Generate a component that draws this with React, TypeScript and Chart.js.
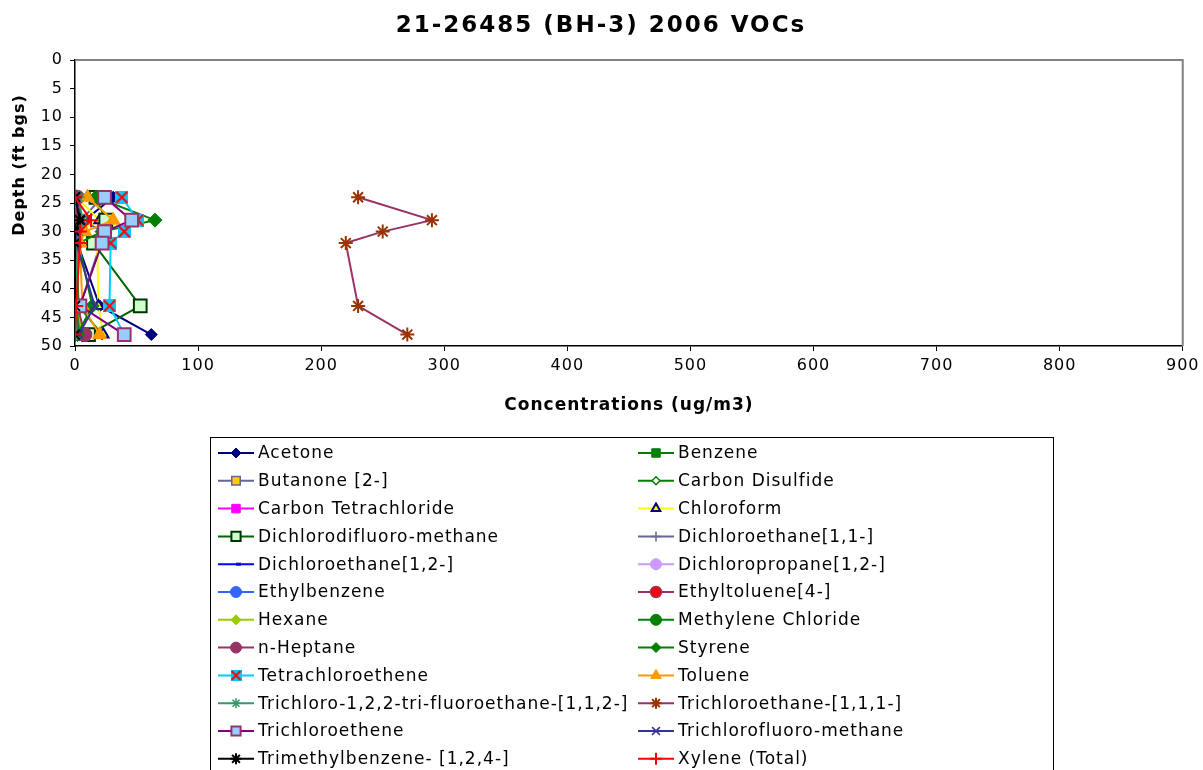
import React, { useEffect, useRef } from "react";
import { Chart, registerables } from "chart.js";
import { drawPoint } from "chart.js/helpers";

Chart.register(...registerables);

const chartTitle = "21-26485 (BH-3) 2006 VOCs";
const xTitle = "Concentrations (ug/m3)";
const yTitle = "Depth (ft bgs)";

const depths = [24, 28, 30, 32, 43, 48];
const xTicks = [0, 100, 200, 300, 400, 500, 600, 700, 800, 900];
const yTicks = [0, 5, 10, 15, 20, 25, 30, 35, 40, 45, 50];

const seriesNames = [
  "Acetone",
  "Benzene",
  "Butanone [2-]",
  "Carbon Disulfide",
  "Carbon Tetrachloride",
  "Chloroform",
  "Dichlorodifluoro-methane",
  "Dichloroethane[1,1-]",
  "Dichloroethane[1,2-]",
  "Dichloropropane[1,2-]",
  "Ethylbenzene",
  "Ethyltoluene[4-]",
  "Hexane",
  "Methylene Chloride",
  "n-Heptane",
  "Styrene",
  "Tetrachloroethene",
  "Toluene",
  "Trichloro-1,2,2-tri-fluoroethane-[1,1,2-]",
  "Trichloroethane-[1,1,1-]",
  "Trichloroethene",
  "Trichlorofluoro-methane",
  "Trimethylbenzene- [1,2,4-]",
  "Xylene (Total)",
];

const acetone = [31, 8, 3, 2, 20, 62];
const benzene = [1, 2, 1, 1, 2, 3];
const butanone = [22, 5, 23, 21, 4, 3];
const carbonDisulfide = [1, 2, 1, 1, 3, 22];
const carbonTetrachloride = [0, 1, 0, 0, 1, 1];
const chloroform = [1, 20, 2, 18, 19, 23];
const dichlorodifluoromethane = [17, 25, 24, 15, 53, 11];
const dichloroethane11 = [0, 0, 0, 0, 0, 0];
const dichloroethane12 = [0, 0, 0, 0, 0, 0];
const dichloropropane12 = [0, 0, 0, 0, 0, 0];
const ethylbenzene = [1, 2, 1, 1, 1, 1];
const ethyltoluene4 = [1, 2, 1, 1, 1, 2];
const hexane = [2, 3, 1, 1, 2, 6];
const methyleneChloride = [1, 3, 1, 1, 2, 2];
const nHeptane = [2, 0, 1, 1, 2, 8];
const styrene = [17, 65, 22, 3, 14, 2];
const tetrachloroethene = [38, 51, 40, 29, 28, 40];
const toluene = [10, 31, 8, 4, 6, 20];
const trichlorotrifluoroethane = [3, 6, 3, 2, 1, 1];
const trichloroethane111 = [230, 290, 250, 220, 230, 270];
const trichloroethene = [24, 46, 24, 22, 4, 40];
const trichlorofluoromethane = [1, 5, 1, 1, 16, 3];
const trimethylbenzene = [0, 4, 0, 0, 0, 0];
const xylene = [0, 13, 4, 4, 1, 0];

const seriesValues = [
  acetone, benzene, butanone, carbonDisulfide, carbonTetrachloride, chloroform,
  dichlorodifluoromethane, dichloroethane11, dichloroethane12, dichloropropane12,
  ethylbenzene, ethyltoluene4, hexane, methyleneChloride, nHeptane, styrene,
  tetrachloroethene, toluene, trichlorotrifluoroethane, trichloroethane111,
  trichloroethene, trichlorofluoromethane, trimethylbenzene, xylene,
];

function makeTetraImage(size: number): HTMLCanvasElement {
  const c = document.createElement("canvas");
  c.width = size;
  c.height = size;
  const g = c.getContext("2d")!;
  g.fillStyle = "#00CCFF";
  g.fillRect(0, 0, size, size);
  g.strokeStyle = "#FF0000";
  g.lineWidth = 2;
  g.beginPath();
  g.moveTo(1, 1);
  g.lineTo(size - 1, size - 1);
  g.moveTo(size - 1, 1);
  g.lineTo(1, size - 1);
  g.stroke();
  return c;
}

// [lineColor, pointStyle, fill, border, radius, borderWidth, legendRadius]
function styles(): any[] {
  const tetra = makeTetraImage(13);
  const tetraL = makeTetraImage(11);
  return [
    ["#000080", "rectRot", "#000080", "#000080", 6, 1, 5],
    ["#008000", "rect", "#008000", "#008000", 7, 1, 6],
    ["#666699", "rect", "#FFCC00", "#666699", 8, 1.5, 6],
    ["#008000", "rectRot", "#FFFFFF", "#008000", 5, 1.5, 4],
    ["#FF00FF", "rect", "#FF00FF", "#FF00FF", 7, 1, 6],
    ["#FFFF00", "triangle", "#FFFF00", "#000080", 6, 2, 5],
    ["#006600", "rect", "#CCFFCC", "#003300", 9, 2, 6.5],
    ["#666699", "cross", "#666699", "#666699", 6, 1.5, 5],
    ["#0000FF", "dash", "#0000FF", "#0000FF", 5, 3, 5],
    ["#CC99FF", "circle", "#CC99FF", "#CC99FF", 6, 1, 5.5],
    ["#3366FF", "circle", "#3366FF", "#3366FF", 6, 1, 5.5],
    ["#993366", "circle", "#FF0000", "#993366", 6, 1.5, 5.5],
    ["#99CC00", "rectRot", "#99CC00", "#99CC00", 6, 1, 5],
    ["#008000", "circle", "#008000", "#008000", 6, 1, 5.5],
    ["#993366", "circle", "#993366", "#993366", 7, 1, 5.5],
    ["#008000", "rectRot", "#008000", "#008000", 7, 1, 5],
    ["#00CCFF", [tetra, tetraL], "#00CCFF", "#FF0000", 7, 2, 5],
    ["#FF9900", "triangle", "#FF9900", "#FF9900", 8, 1, 6],
    ["#339966", "star", "#339966", "#339966", 6, 1.5, 5],
    ["#993366", "star", "#993300", "#993300", 7, 2, 5.5],
    ["#800080", "rect", "#99CCFF", "#993366", 9, 2, 6.5],
    ["#333399", "crossRot", "#333399", "#333399", 6, 1.5, 5.5],
    ["#000000", "star", "#000000", "#000000", 7, 2, 5.5],
    ["#FF0000", "cross", "#FF0000", "#FF0000", 7, 2, 6],
  ];
}

const FONT = '"DejaVu Sans", Verdana, sans-serif';

const overlayPlugin = {
  id: "overlay",
  beforeDraw(chart: any) {
    (chart.ctx as any).letterSpacing = "1px";
  },
  beforeDatasetsDraw(chart: any) {
    const { ctx, chartArea: ca } = chart;
    ctx.save();
    ctx.strokeStyle = "#808080";
    ctx.lineWidth = 2;
    ctx.beginPath();
    ctx.moveTo(ca.left, ca.top);
    ctx.lineTo(ca.right, ca.top);
    ctx.lineTo(ca.right, ca.bottom);
    ctx.stroke();
    ctx.restore();
  },
  afterDraw(chart: any) {
    const { ctx } = chart;
    ctx.save();
    ctx.fillStyle = "#000";
    ctx.textBaseline = "middle";
    ctx.textAlign = "center";
    ctx.letterSpacing = "2px";
    ctx.font = "bold 23px " + FONT;
    ctx.fillText(chartTitle, 601, 26);
    ctx.letterSpacing = "1px";
    ctx.font = "bold 17px " + FONT;
    ctx.fillText(xTitle, 629, 406);
    ctx.save();
    ctx.font = "bold 16px " + FONT;
    ctx.translate(20, 165);
    ctx.rotate(-Math.PI / 2);
    ctx.fillText(yTitle, 0, 0);
    ctx.restore();

    // legend box
    ctx.strokeStyle = "#000";
    ctx.lineWidth = 1;
    ctx.strokeRect(210.5, 437.5, 843, 400);
    ctx.font = "17px " + FONT;
    ctx.textAlign = "left";
    chart.data.datasets.forEach((ds: any, i: number) => {
      const col = i % 2;
      const row = Math.floor(i / 2);
      const y = 453 + row * 27.8;
      const x0 = col === 0 ? 218 : 638;
      const x1 = x0 + 36;
      const xm = (x0 + x1) / 2;
      ctx.strokeStyle = ds.borderColor;
      ctx.lineWidth = 2;
      ctx.beginPath();
      ctx.moveTo(x0, y);
      ctx.lineTo(x1, y);
      ctx.stroke();
      ctx.fillStyle = ds.pointBackgroundColor;
      ctx.strokeStyle = ds.pointBorderColor;
      ctx.lineWidth = ds.pointBorderWidth;
      drawPoint(ctx, {
        pointStyle: ds.legendStyle,
        radius: ds.legendRadius,
        borderWidth: ds.pointBorderWidth,
        rotation: 0,
      } as any, xm, y);
      ctx.fillStyle = "#000";
      ctx.fillText(ds.label, x1 + 4, y + 1);
    });
    ctx.restore();
  },
};

export default function App() {
  const ref = useRef<HTMLCanvasElement>(null);
  useEffect(() => {
    if (!ref.current) return;
    const st = styles();
    const n = seriesNames.length;
    const datasets = seriesNames.map((name, i) => {
      const s = st[i];
      const ps = Array.isArray(s[1]) ? s[1][0] : s[1];
      const ls = Array.isArray(s[1]) ? s[1][1] : s[1];
      return {
        label: name,
        data: seriesValues[i].map((v, j) => ({ x: v, y: depths[j] })),
        showLine: true,
        borderColor: s[0],
        borderWidth: 2,
        pointStyle: ps,
        legendStyle: ls,
        pointBackgroundColor: s[2],
        pointBorderColor: s[3],
        pointRadius: s[4],
        pointBorderWidth: s[5],
        legendRadius: s[6],
        pointHoverRadius: s[4],
        order: n - i,
      };
    });
    const chart = new Chart(ref.current, {
      type: "scatter",
      data: { datasets },
      options: {
        animation: false,
        responsive: false,
        events: [],
        layout: { padding: { left: 0, right: 19, top: 60, bottom: 354 } },
        plugins: { legend: { display: false }, tooltip: { enabled: false }, title: { display: false } },
        scales: {
          x: {
            type: "linear",
            min: 0,
            max: 900,
            afterBuildTicks: (sc: any) => { sc.ticks = xTicks.map((v) => ({ value: v })); },
            afterFit: (sc: any) => { sc.height = 70; },
            grid: { drawOnChartArea: false, drawTicks: true, tickLength: 5, color: "#000" },
            border: { color: "#000", width: 1.5 },
            ticks: { color: "#000", font: { family: FONT, size: 16 }, padding: 5, maxRotation: 0 },
          },
          y: {
            type: "linear",
            min: 0,
            max: 50,
            reverse: true,
            afterBuildTicks: (sc: any) => { sc.ticks = yTicks.map((v) => ({ value: v })); },
            afterFit: (sc: any) => { sc.width = 75; },
            grid: { drawOnChartArea: false, drawTicks: true, tickLength: 5, color: "#000" },
            border: { color: "#000", width: 1.5 },
            ticks: { color: "#000", font: { family: FONT, size: 16 }, padding: 7 },
          },
        },
      },
      plugins: [overlayPlugin],
    } as any);
    return () => chart.destroy();
  }, []);
  return (
    <div style={{ position: "fixed", left: 0, top: 0, width: 1203, height: 770, background: "#fff" }}>
      <canvas ref={ref} width={1203} height={770} />
    </div>
  );
}
